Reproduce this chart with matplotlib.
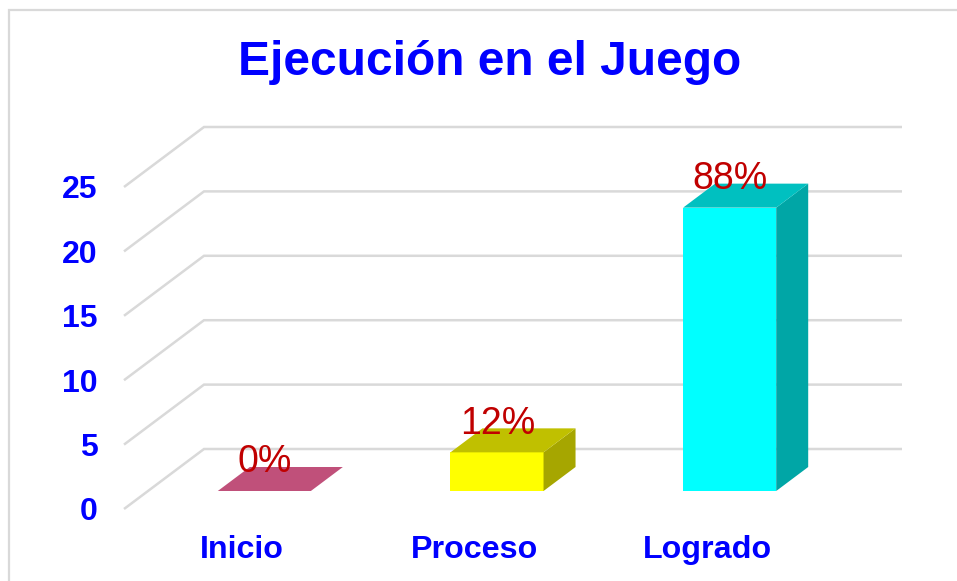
import matplotlib
matplotlib.use('Agg')
import matplotlib.pyplot as plt
from matplotlib.patches import Polygon, Rectangle

plt.rcParams['font.family'] = ['Liberation Sans', 'DejaVu Sans']

categories = ['Inicio', 'Proceso', 'Logrado']
values = [0, 3, 22]
labels = ['0%', '12%', '88%']
y_ticks = [0, 5, 10, 15, 20, 25]

front_colors = ['#C0507A', '#FFFF00', '#00FFFF']
top_colors = ['#C0507A', '#C0C000', '#00C0C0']
side_colors = ['#A04060', '#A6A600', '#00A6A6']

W, H = 957, 581
BLUE = '#0000FF'
GRID = '#D9D9D9'

# floor depth of the fake 3d box, in data units
depth_x = 80 / (698 / 3)
depth_y = 60 / (322 / 25)
bar_w = 0.4
near, far = 0.3, 0.7

fig = plt.figure(figsize=(W / 100, H / 100), dpi=100)
fig.patch.set_facecolor('white')
fig.add_artist(Rectangle((9 / W, -0.02), 1.1, 1 - 10 / H + 0.02, transform=fig.transFigure,
                         fill=False, ec=GRID, lw=1.6))

ax = fig.add_axes([124 / W, 1 - 509 / H, 698 / W, 322 / H])
ax.set_xlim(0, 3)
ax.set_ylim(0, 25)
ax.patch.set_alpha(0)
for s in ax.spines.values():
    s.set_visible(False)

for v in y_ticks:
    ax.plot([0, depth_x, 3 + depth_x], [v, v + depth_y, v + depth_y], color=GRID, lw=1.8,
            clip_on=False, zorder=1, solid_joinstyle='miter', solid_capstyle='butt')

for i, v in enumerate(values):
    x0 = i + 0.5 - bar_w / 2 + near * depth_x
    x1 = x0 + bar_w
    y0 = near * depth_y
    dx = (far - near) * depth_x
    dy = (far - near) * depth_y
    front = [(x0, y0), (x1, y0), (x1, y0 + v), (x0, y0 + v)]
    side = [(x1, y0), (x1 + dx, y0 + dy), (x1 + dx, y0 + dy + v), (x1, y0 + v)]
    top = [(x0, y0 + v), (x1, y0 + v), (x1 + dx, y0 + dy + v), (x0 + dx, y0 + dy + v)]
    if v > 0:
        ax.add_patch(Polygon(front, fc=front_colors[i], ec='none', clip_on=False, zorder=3))
        ax.add_patch(Polygon(side, fc=side_colors[i], ec='none', clip_on=False, zorder=3))
    ax.add_patch(Polygon(top, fc=top_colors[i], ec='none', clip_on=False, zorder=3))
    ax.annotate(labels[i], ((x0 + x1) / 2, y0 + v), xytext=(0.5, 13.5), textcoords='offset points',
                ha='center', va='baseline', fontsize=27, color='#C00000', zorder=4,
                annotation_clip=False)

ax.set_xticks([i + 0.506 for i in range(len(categories))])
ax.set_xticklabels(categories, fontsize=23.2, fontweight='bold', color=BLUE)
ax.set_yticks(y_ticks)
ax.set_yticklabels([str(v) for v in y_ticks], fontsize=23, fontweight='bold', color=BLUE)
ax.tick_params(axis='x', length=0, pad=19)
ax.tick_params(axis='y', length=0, pad=19)

fig.text(489.5 / W, 1 - 75 / H, 'Ejecución en el Juego', ha='center', va='baseline',
         fontsize=34.5, fontweight='bold', color=BLUE)

fig.savefig('out.png', dpi=100)
